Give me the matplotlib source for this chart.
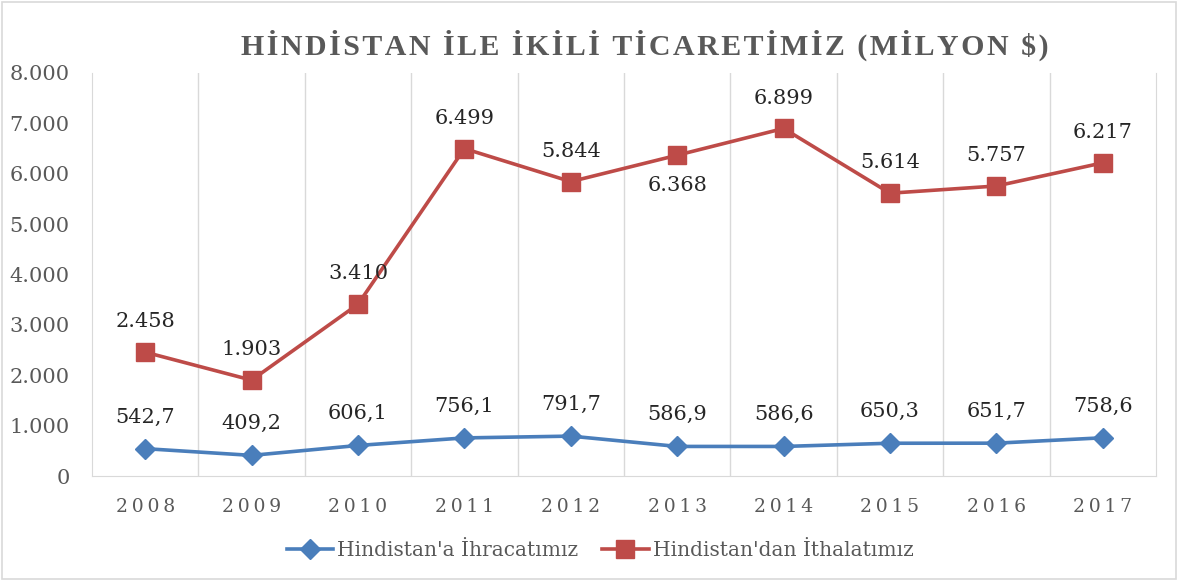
import matplotlib.pyplot as plt
from matplotlib.patches import Rectangle
from matplotlib.ticker import FuncFormatter

years = ['2008', '2009', '2010', '2011', '2012', '2013', '2014', '2015', '2016', '2017']
ihracat = [542.7, 409.2, 606.1, 756.1, 791.7, 586.9, 586.6, 650.3, 651.7, 758.6]
ithalat = [2458, 1903, 3410, 6499, 5844, 6368, 6899, 5614, 5757, 6217]

# which red labels go under the marker
below = ['2013']

FONT = 'DejaVu Serif'
BLUE = '#4A7EBB'
RED = '#BE4B48'
GREY = '#595959'
HAIR = '\u200a'
THIN = '\u2009'

plt.rcParams['font.family'] = FONT

fig = plt.figure(figsize=(11.78, 5.81), dpi=100)
ax = fig.add_axes([92 / 1178, 1 - 476 / 581, 1064 / 1178, 403 / 581])

x = list(range(len(years)))
ax.plot(x, ihracat, color=BLUE, lw=2.6, marker='D', markersize=10,
        label="Hindistan'a İhracatımız")
ax.plot(x, ithalat, color=RED, lw=2.6, marker='s', markersize=13,
        label="Hindistan'dan İthalatımız")

for i, v in enumerate(ihracat):
    ax.annotate(f'{v:.1f}'.replace('.', ','), (i, v), xytext=(0, 16),
                textcoords='offset points', ha='center', va='bottom',
                fontsize=15, color='#262626')
for i, v in enumerate(ithalat):
    s = f'{v:,}'.replace(',', '.')
    if years[i] in below:
        ax.annotate(s, (i, v), xytext=(0, -15), textcoords='offset points',
                    ha='center', va='top', fontsize=15, color='#262626')
    else:
        ax.annotate(s, (i, v), xytext=(0, 15), textcoords='offset points',
                    ha='center', va='bottom', fontsize=15, color='#262626')

ax.set_xlim(-0.5, len(years) - 0.5)
ax.set_ylim(0, 8000)
ax.set_yticks(range(0, 8001, 1000))
ax.yaxis.set_major_formatter(FuncFormatter(lambda v, p: f'{int(v):,}'.replace(',', '.')))
ax.set_xticks(x)
ax.set_xticklabels([THIN.join(y) for y in years], fontsize=13.5, color=GREY)
ax.tick_params(axis='y', labelsize=15, labelcolor=GREY, length=0, pad=16)
ax.tick_params(axis='x', length=0, pad=16)

ax.set_xticks([i + 0.5 for i in range(len(years) - 1)], minor=True)
ax.tick_params(axis='x', which='minor', length=0)
ax.grid(True, which='minor', axis='x', color='#D9D9D9', lw=1)
ax.grid(False, which='major')
for side in ['top', 'right', 'left', 'bottom']:
    ax.spines[side].set_color('#D9D9D9')
ax.spines['top'].set_visible(False)

title = 'HİNDİSTAN İLE İKİLİ TİCARETİMİZ (MİLYON $)'
fig.text(645 / 1178, 1 - 45 / 581, HAIR.join(title), ha='center', va='center',
         fontsize=21.5, fontweight='bold', color=GREY,
         family=['Liberation Serif', 'DejaVu Serif'])

fig.legend(loc='center', bbox_to_anchor=(600 / 1178, 1 - 551 / 581), ncol=2,
           frameon=False, fontsize=14.5, handlelength=2.3, columnspacing=1.2,
           handletextpad=0.2, labelcolor=GREY)

fig.patches.append(Rectangle((0.002, 0.003), 0.996, 0.994, transform=fig.transFigure,
                             fill=False, edgecolor='#D9D9D9', lw=1.2))

fig.savefig('out.png', dpi=100)
